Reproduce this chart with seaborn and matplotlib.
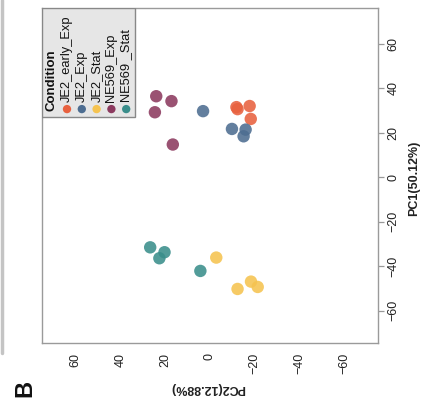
import numpy as np
import pandas as pd
import matplotlib
matplotlib.use("Agg")
import matplotlib.pyplot as plt
import seaborn as sns
from matplotlib.patches import Rectangle
from matplotlib.lines import Line2D

# PCA scores (the figure is shown turned 90 degrees)
conditions = ["JE2_early_Exp", "JE2_Exp", "JE2_Stat", "NE569_Exp", "NE569 _Stat"]
colors = ["#E8613F", "#4D6D91", "#F5C350", "#8C3A5F", "#3A8E8B"]

pc1_early = [31.5, 30.6, 32.0, 26.2]
pc2_early = [-11.8, -12.3, -17.7, -18.2]
pc1_je2exp = [29.7, 21.7, 21.4, 18.4]
pc2_je2exp = [3.1, -9.8, -15.9, -15.0]
pc1_je2stat = [-36.1, -50.2, -46.9, -49.3]
pc2_je2stat = [-2.8, -12.3, -18.3, -21.3]
pc1_neexp = [36.4, 34.2, 29.2, 14.7]
pc2_neexp = [24.0, 17.2, 24.6, 16.6]
pc1_nestat = [-31.5, -33.7, -36.4, -42.1]
pc2_nestat = [26.7, 20.3, 22.6, 4.3]

ticks = [-60, -40, -20, 0, 20, 40, 60]

pc1_all = [pc1_early, pc1_je2exp, pc1_je2stat, pc1_neexp, pc1_nestat]
pc2_all = [pc2_early, pc2_je2exp, pc2_je2stat, pc2_neexp, pc2_nestat]
rows = []
for cond, a, b in zip(conditions, pc1_all, pc2_all):
    for v1, v2 in zip(a, b):
        rows.append({"Condition": cond, "PC1": v1, "PC2": v2})
df = pd.DataFrame(rows)

sns.set_style("white")
plt.rcParams["font.family"] = ["Liberation Sans", "DejaVu Sans"]

fig = plt.figure(figsize=(4.23, 4.05), dpi=100)
ax = fig.add_axes([0.0993, 0.153, 0.7943, 0.827])

sns.scatterplot(data=df, x="PC2", y="PC1", hue="Condition", hue_order=conditions,
                palette=colors, s=80, alpha=0.88, edgecolor="none", legend=False, ax=ax)

ax.set_xlim(75, -75)
ax.set_ylim(-74.5, 76)
ax.set_xticks(ticks)
ax.set_yticks(ticks)
ax.yaxis.tick_right()
ax.yaxis.set_label_position("right")
ax.tick_params(axis="both", direction="out", length=4, width=0.9, color="#999999",
               labelsize=9, labelcolor="#222222", pad=3)
for lab in ax.get_xticklabels():
    lab.set_rotation(90)
    lab.set_va("top")
for lab in ax.get_yticklabels():
    lab.set_rotation(90)
    lab.set_va("center")
    lab.set_ha("left")
for sp in ax.spines.values():
    sp.set_visible(True)
    sp.set_color("#9a9a9a")
    sp.set_linewidth(1.0)

ax.set_xlabel("")
ax.set_ylabel("")
fig.text(0.492, 0.042, "PC2(12.88%)", rotation=180, ha="center", va="center",
         fontsize=9, fontweight="bold", color="#222222")
fig.text(0.978, 0.56, "PC1(50.12%)", rotation=90, ha="center", va="center",
         fontsize=9, fontweight="bold", color="#222222")
fig.text(0.058, 0.042, "B", rotation=90, ha="center", va="center",
         fontsize=17, fontweight="bold", color="#111111")

# neighbouring panel edge on the left
fig.add_artist(Line2D([0.005, 0.005], [0.128, 1.0], transform=fig.transFigure,
                      color="#c4c4c4", linewidth=2.5))

# legend, drawn turned like the rest of the figure
x0 = 0.0
y0 = 1 - (117 - 8) / 335.0
ax.add_patch(Rectangle((x0, y0), 93 / 336.0, 1 - y0, transform=ax.transAxes,
                       facecolor="#e6e6e6", edgecolor="#888888", linewidth=1.0, zorder=5))
ax.text(9.5 / 336.0, 1 - (111 - 8) / 335.0, "Condition", rotation=90, ha="center",
        va="bottom", fontsize=9.5, fontweight="bold", color="#111111",
        transform=ax.transAxes, zorder=6)
for i, (cond, col) in enumerate(zip(conditions, colors)):
    xc = (25 + 14.8 * i) / 336.0
    ax.scatter([xc], [1 - (109 - 8) / 335.0], s=36, color=col, edgecolor="none",
               transform=ax.transAxes, zorder=6, clip_on=False)
    ax.text(xc, 1 - (102 - 8) / 335.0, cond, rotation=90, ha="center", va="bottom",
            fontsize=9.3, color="#111111", transform=ax.transAxes, zorder=6)

fig.savefig("out.png", dpi=100)
